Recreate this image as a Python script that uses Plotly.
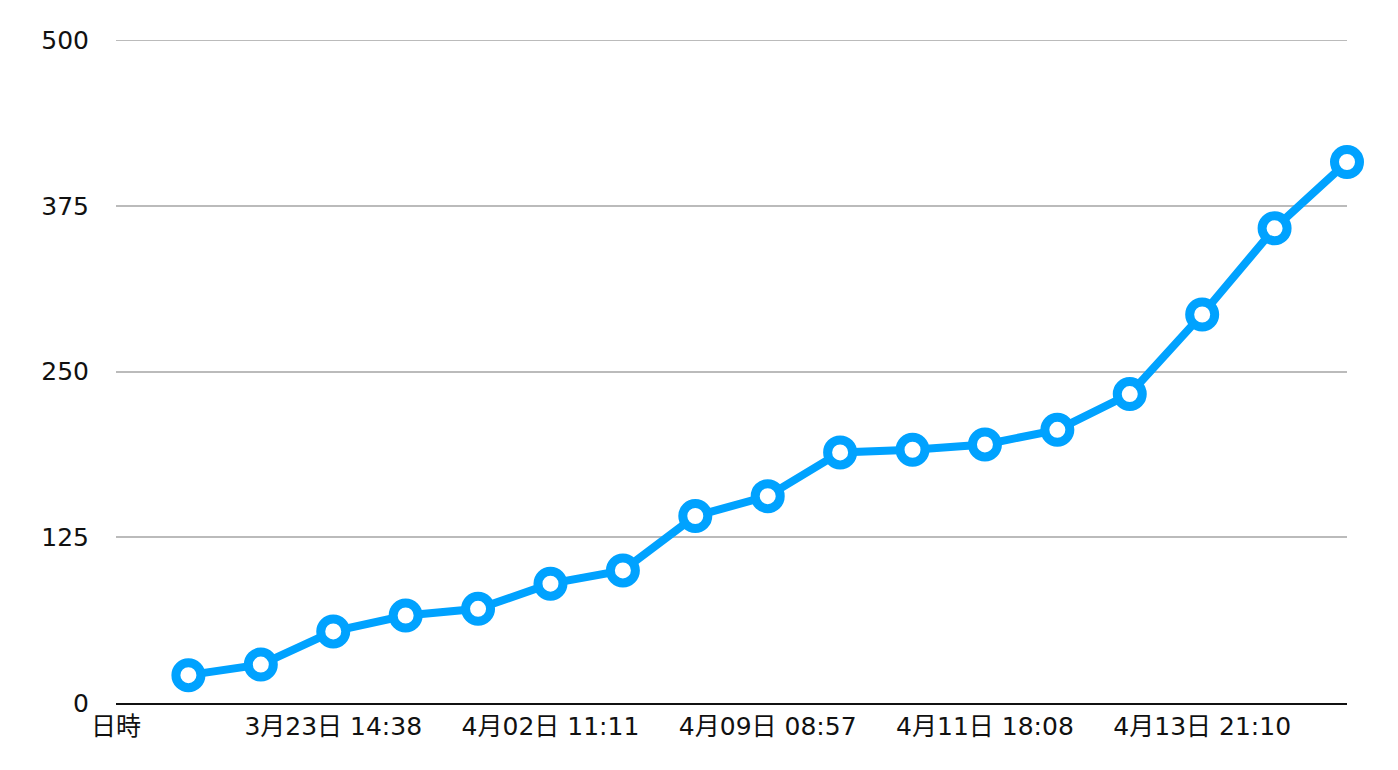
import plotly.graph_objects as go

# Data
values = [21, 29, 54, 66, 71, 90, 100, 141, 156, 189, 191, 195, 206, 233, 293, 358, 408]
tick_positions = [0, 3, 6, 9, 12, 15]
tick_labels = ["日時", "3月23日 14:38", "4月02日 11:11", "4月09日 08:57", "4月11日 18:08", "4月13日 21:10"]
y_ticks = [0, 125, 250, 375, 500]

x = list(range(1, len(values) + 1))

BLUE = "#00A2FF"
GRID = "#BBBBBB"
FONT = "DejaVu Sans, Noto Sans CJK JP, sans-serif"

fig = go.Figure()
fig.add_trace(go.Scatter(
    x=x, y=values, mode="lines+markers",
    line=dict(color=BLUE, width=8),
    marker=dict(size=25, color="white", line=dict(color=BLUE, width=9)),
    cliponaxis=False, showlegend=False,
))

# top gridline (plotly omits the gridline at the range edge)
fig.add_shape(type="line", xref="paper", x0=0, x1=1, yref="y", y0=y_ticks[-1], y1=y_ticks[-1],
              line=dict(color=GRID, width=2), layer="below")

fig.update_layout(
    width=1398, height=770,
    margin=dict(l=108, r=59, t=32, b=75),
    paper_bgcolor="white", plot_bgcolor="white",
    font=dict(family=FONT, size=25, color="#111111"),
    xaxis=dict(
        range=[0, len(values)],
        tickmode="array", tickvals=tick_positions, ticktext=tick_labels,
        showgrid=False, zeroline=False,
        showline=True, linecolor="#111111", linewidth=2,
        ticks="", ticklabelstandoff=0,
    ),
    yaxis=dict(
        range=[0, 500],
        tickmode="array", tickvals=y_ticks, ticktext=[str(v) for v in y_ticks],
        showgrid=True, gridcolor=GRID, gridwidth=2,
        zeroline=False, showline=False,
        ticks="", ticklabelstandoff=26,
    ),
)

fig.write_html("out.html")
